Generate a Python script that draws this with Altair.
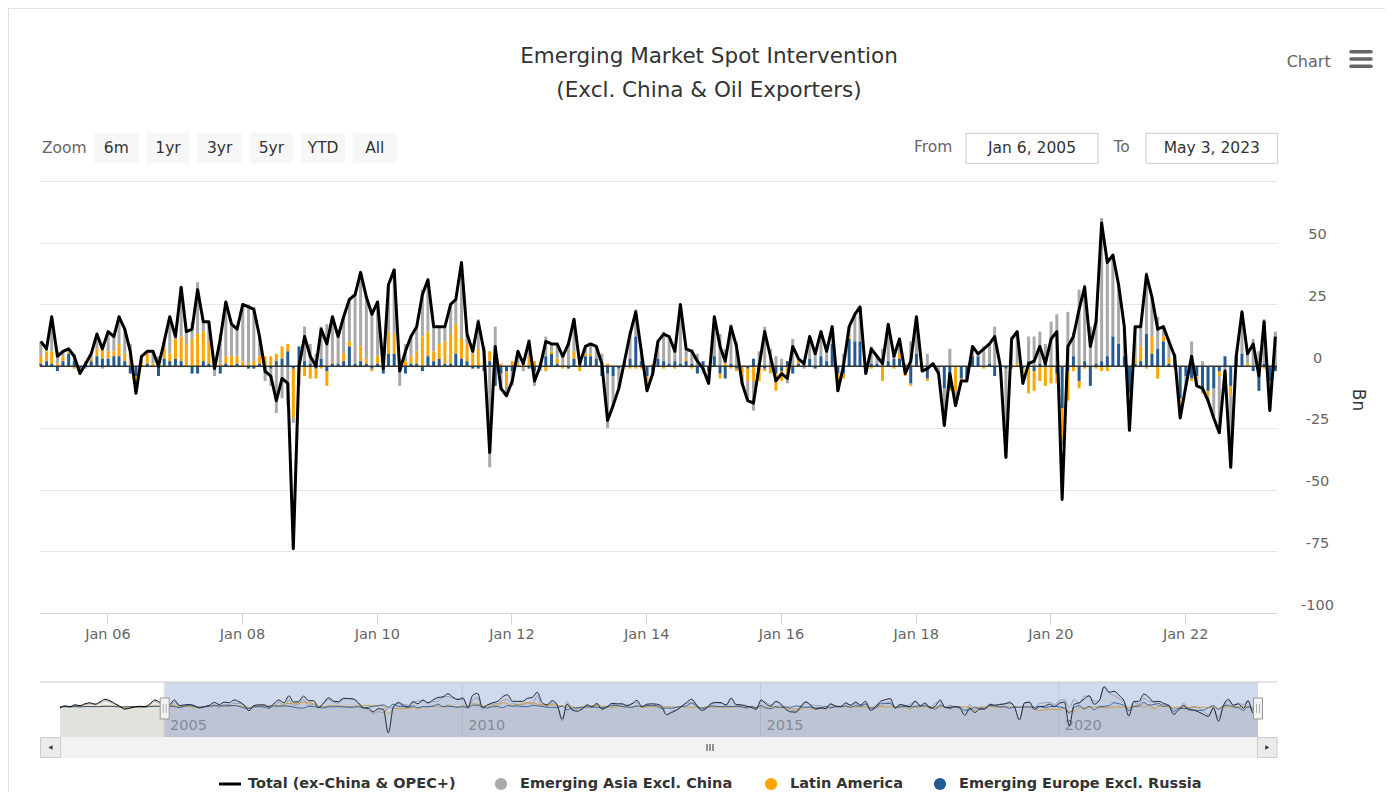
import altair as alt
import pandas as pd

# ---------------- data ----------------
TITLE = ["Emerging Market Spot Intervention", "(Excl. China & Oil Exporters)"]
TOTAL_NAME = "Total (ex-China & OPEC+)"
SERIES = ["Emerging Asia Excl. China", "Latin America", "Emerging Europe Excl. Russia"]
BUTTONS = ["6m", "1yr", "3yr", "5yr", "YTD", "All"]
RANGE_FROM = "Jan 6, 2005"
RANGE_TO = "May 3, 2023"
Y_TICKS = [-100, -75, -50, -25, 0, 25, 50, 75]
X_TICK_YEARS = [2006, 2008, 2010, 2012, 2014, 2016, 2018, 2020, 2022]
NAV_TICK_YEARS = [2005, 2010, 2015, 2020]

# monthly, Jan 2005 - May 2023 (bn)
total = [
    10, 7, 20, 4, 6, 7, 4, -3, 1, 5, 13, 7,
    14, 12, 20, 15, 6, -11, 4, 6, 6, 0, 10, 20,
    12, 32, 14, 15, 31, 18, 18, -1, 11, 26, 17, 15,
    25, 24, 23, 12, -2, -4, -14, -5, -7, -74, 0, 12,
    4, 0, 15, 9, 20, 12, 20, 27, 29, 38, 28, 21,
    26, -1, 33, 39, -2, 6, 12, 16, 29, 35, 16, 16,
    16, 25, 27, 42, 13, 6, 18, 6, -35, 8, -9, -12,
    -6, 6, 1, 10, -6, 0, 10, 9, 9, 4, 9, 19,
    1, 8, 9, 8, 1, -22, -16, -9, 2, 13, 22, 6,
    -10, -3, 10, 13, 12, 6, 25, 7, 6, 2, -1, -7,
    20, 8, 2, 16, 8, -7, -14, -15, 0, 14, 4, -6,
    -3, -5, 8, 3, 1, 12, 5, 14, 6, 16, -10, 0,
    16, 21, 24, -3, 7, 4, 1, 17, 4, 11, -3, 2,
    20, -2, -1, 1, -3, -24, -3, -16, -6, -6, 8, 5,
    7, 9, 12, 0, -37, 11, 14, -7, 1, 2, 8, 1,
    11, 14, -54, 8, 12, 23, 32, 8, 18, 58, 42, 45,
    33, 16, -26, 16, 16, 37, 28, 15, 16, 10, 4, -21,
    -8, 4, -8, -9, -14, -21, -27, -2, -41, 4, 22, 5,
    9, -4, 18, -18, 12,
]
asia = [
    6, 1, 14, 5, 2, 1, 3, -1, -1, 2, 6, -1,
    8, 6, 11, 10, 7, -5, 3, 1, 5, 3, 3, 15,
    1, 20, 5, 7, 21, 4, 8, -3, 12, 22, 13, 11,
    23, 24, 22, 8, -3, -7, -19, -13, -16, -2, -3, 14,
    8, 5, 13, 17, 18, 11, 15, 17, 28, 30, 25, 23,
    22, 1, 19, 26, -8, 7, 8, 10, 19, 21, 10, 7,
    6, 12, 10, 31, 4, 2, 12, 5, -41, 16, -7, -4,
    -6, 5, -2, 7, -6, -2, 8, 3, 6, 5, 10, 13,
    2, 3, 4, 5, 5, -22, -12, -8, 0, 11, 11, 5,
    -3, -2, 7, 12, 11, 5, 24, 4, 6, 5, -3, -4,
    16, 13, 6, 16, 10, -4, -8, -12, 5, 16, 7, 4,
    3, -4, 11, 0, -1, 9, 6, 10, 4, 7, -5, 5,
    4, 11, 14, 0, 7, 3, 7, 15, 3, 6, 1, 10,
    15, -2, 5, 0, -3, -15, 7, -6, 0, -1, 3, 1,
    8, 8, 16, 0, -36, 12, 13, -3, 10, 12, 13, 7,
    18, 21, -3, 22, 10, 31, 31, 16, 18, 58, 40, 33,
    24, 12, -8, 13, 8, 25, 16, 13, 4, 8, 0, -6,
    -4, 10, -3, 2, -2, -12, -23, -6, -29, 0, 17, 4,
    11, 6, 18, -12, 14,
]
latam = [
    3, 4, 5, 1, 2, 1, -1, -1, 1, 1, 3, 5,
    3, 2, 5, 3, 2, -2, 1, 4, 1, 1, 4, 3,
    8, 10, 9, 11, 13, 12, 9, 2, 1, 3, 4, 3,
    2, 1, 2, 3, 4, 4, 3, 5, 3, -20, -5, -4,
    -5, -4, -1, -6, 1, 0, 3, 2, 0, 6, 2, -1,
    3, 1, 9, 8, 3, 2, 3, 5, 12, 10, 4, 6,
    9, 12, 12, 8, 7, 5, 7, 3, 4, 0, 1, -6,
    2, 1, 3, 4, 2, 2, -2, 1, 2, -1, 0, 3,
    -2, 1, 1, 0, 0, 1, 0, 0, 1, -1, -1, -1,
    -3, 1, 0, -1, 0, -1, 0, 1, -1, 0, 0, -1,
    0, -2, 1, -1, -1, -3, -5, -6, -6, -1, -3, -7,
    -4, -3, 0, 2, 1, 0, 0, 0, 0, 0, -2, -2,
    1, 0, 0, 0, -1, 0, -6, 0, -1, 2, -4, -1,
    0, 0, -1, 0, 0, 0, -1, -10, -1, 0, 1, 0,
    -1, 0, 0, 0, 0, -1, 1, -3, -11, -8, -6, -8,
    -7, -4, -12, -12, -2, -3, -1, 0, -1, -2, -2, 0,
    0, 0, -2, 2, 6, -1, 7, -5, 2, 2, -1, -2,
    0, -1, -1, -2, -2, 0, -2, 0, -4, 0, 0, 1,
    0, 0, -1, 0, 0,
]
europe = [
    1, 2, 1, -2, 2, 5, 2, -1, 1, 2, 4, 3,
    3, 4, 4, 2, -3, -4, 0, 1, 0, -4, 3, 2,
    3, 2, 0, -3, -3, 2, 1, -1, -3, 1, 0, 1,
    0, -1, -1, 1, -3, -1, 2, 3, 6, -1, 8, 2,
    1, -1, 3, -2, 1, 1, 2, 8, 1, 2, 1, -1,
    1, -3, 5, 5, 0, -3, 1, 1, -2, 4, 2, 3,
    1, 1, 5, 3, 2, -1, -1, -2, 2, -8, -3, -2,
    -2, 0, 0, -1, -2, 0, 4, 5, 1, 0, -1, 3,
    1, 4, 4, 3, -4, -3, -4, -1, 1, 3, 12, 2,
    -4, -2, 3, 2, 1, 2, 1, 2, 1, -3, 2, -2,
    4, -3, -5, 1, -1, 0, -1, 3, 1, -1, 0, -3,
    -2, 2, -3, 1, 1, 3, -1, 4, 2, 9, -3, -3,
    11, 10, 10, -3, 1, 1, 0, 2, 3, 3, 0, -7,
    5, 0, -5, 1, 0, -9, -9, 0, -5, -5, 4, 4,
    0, 1, -4, 0, -1, 0, 0, -1, 2, -2, 1, 2,
    0, -3, -17, -2, 4, -6, 2, -8, 1, 2, 4, 12,
    9, 4, -11, 1, 2, 13, 5, 7, 10, 1, 5, -13,
    -4, -5, -4, -9, -10, -9, -2, 4, -8, 4, 5, 0,
    -2, -10, 1, -6, -2,
]
# navigator history before the selected range (Apr 2003 - Dec 2004)
pre_total = [-2, 3, 1, 6, 4, 9, 12, 8, 14, 22, 18, 10, 2, -6, -3, 0, 2, 1, 8, 20, 14]
pre_asia = [-3, 1, 0, 4, 2, 6, 9, 6, 11, 17, 14, 7, 1, -6, -4, -1, 1, 0, 5, 15, 10]
pre_latam = [1, 1, 1, 1, 2, 2, 2, 1, 2, 3, 2, 2, 1, 0, 0, 1, 1, 1, 2, 3, 2]
pre_europe = [0, 1, 0, 1, 0, 1, 1, 1, 1, 2, 2, 1, 0, 0, 1, 0, 0, 0, 1, 2, 2]

# ---------------- styling ----------------
FONT = "DejaVu Sans"
C_TOTAL = "#000000"
C_ASIA = "#a9a9a9"
C_LATAM = "#ffa500"
C_EUROPE = "#245a92"
TXT = "#333333"
TXT2 = "#666666"

n = len(total)
main_dates = [d.strftime("%Y-%m-%d") for d in
              pd.date_range("2005-01-01", periods=n, freq="MS") + pd.Timedelta(days=4)]
pre_dates = [d.strftime("%Y-%m-%d") for d in
             pd.date_range("2003-04-01", periods=len(pre_total), freq="MS") + pd.Timedelta(days=4)]

bars_df = pd.DataFrame({
    "date": main_dates * 3,
    "series": [SERIES[0]] * n + [SERIES[1]] * n + [SERIES[2]] * n,
    "value": asia + latam + europe,
    "stack_order": [2] * n + [1] * n + [0] * n,
})
line_df = pd.DataFrame({"date": main_dates, "total": total})

ONE = alt.InlineData(values=[{"k": 0}])

# ---------------- main plot ----------------
x_main = alt.Scale(type="utc", nice=False, padding=0, domain=[
    alt.DateTime(year=2004, month=12, date=31, hours=12, utc=True),
    alt.DateTime(year=2023, month=5, date=14, utc=True)])
y_main = alt.Scale(domain=[-100, 75], nice=False, zero=False)

x_axis = alt.Axis(
    values=[alt.DateTime(year=y, month=1, date=1, utc=True) for y in X_TICK_YEARS],
    format="%b %y", title=None, grid=False,
    labelFont=FONT, labelFontSize=14.5, labelColor=TXT2, labelPadding=3,
    tickColor="#ccd6eb", tickSize=11, domainColor="#ccd6eb", labelFlush=False,
)
y_axis = alt.Axis(
    orient="right", values=Y_TICKS, title=None,
    labelExpr="datum.value == 75 ? '' : '' + datum.value",
    labelAlign="center", labelBaseline="middle", labelPadding=40, labelOffset=-8,
    labelFont=FONT, labelFontSize=14.5, labelColor=TXT2, labelOverlap=False,
    ticks=False, tickSize=0, domain=False, grid=True, gridColor="#e6e6e6",
)

bars = alt.Chart(bars_df).mark_bar(size=3).encode(
    x=alt.X("date:T", scale=x_main, axis=x_axis),
    y=alt.Y("value:Q", stack="zero", scale=y_main, axis=y_axis),
    color=alt.Color("series:N", scale=alt.Scale(domain=SERIES, range=[C_ASIA, C_LATAM, C_EUROPE]), legend=None),
    order=alt.Order("stack_order:Q", sort="ascending"),
)
zero_rule = alt.Chart(ONE).mark_rule(color=TXT, strokeWidth=1.5).encode(y=alt.YDatum(0))
line = alt.Chart(line_df).mark_line(color=C_TOTAL, strokeWidth=3, strokeJoin="round").encode(
    x=alt.X("date:T", scale=x_main, axis=x_axis),
    y=alt.Y("total:Q", scale=y_main, axis=y_axis),
)
main_layer = alt.layer(bars, zero_rule, line)

# ---------------- navigator ----------------
nav_x = alt.Scale(type="utc", nice=False, padding=0, domain=[
    alt.DateTime(year=2003, month=4, date=5, utc=True),
    alt.DateTime(year=2023, month=5, date=5, utc=True)], range=[20, 1218])
nav_y = alt.Scale(domain=[-86, 60], range=[556, 505], nice=False, zero=False)

nav_ticks_df = pd.DataFrame({"d": [f"{y}-01-01" for y in NAV_TICK_YEARS],
                             "lab": [str(y) for y in NAV_TICK_YEARS]})
sel_df = pd.DataFrame({"s": [main_dates[0]], "e": [main_dates[-1]]})
handle_df = pd.DataFrame({"d": [main_dates[0], main_dates[-1]]})

nav_layers = [
    alt.Chart(nav_ticks_df).mark_rule(color="#e6e6e6").encode(
        x=alt.X("d:T", scale=nav_x, axis=None), y=alt.value(501), y2=alt.value(556)),
    alt.Chart(nav_ticks_df).mark_text(align="left", baseline="middle", dx=6, font=FONT,
                                      fontSize=14.5, color="#999999").encode(
        x=alt.X("d:T", scale=nav_x, axis=None), y=alt.value(545), text="lab:N"),
]
for vals, pre, col in [(asia, pre_asia, C_ASIA), (latam, pre_latam, C_LATAM),
                       (europe, pre_europe, C_EUROPE), (total, pre_total, C_TOTAL)]:
    df = pd.DataFrame({"d": pre_dates + main_dates, "v": pre + vals})
    nav_layers.append(alt.Chart(df).mark_area(color=col, fillOpacity=0.05, interpolate="monotone").encode(
        x=alt.X("d:T", scale=nav_x, axis=None),
        y=alt.Y("v:Q", scale=nav_y, axis=None, stack=None), y2=alt.value(556)))
for vals, pre, col in [(asia, pre_asia, C_ASIA), (latam, pre_latam, C_LATAM),
                       (europe, pre_europe, C_EUROPE), (total, pre_total, C_TOTAL)]:
    df = pd.DataFrame({"d": pre_dates + main_dates, "v": pre + vals})
    nav_layers.append(alt.Chart(df).mark_line(color=col, strokeWidth=1, interpolate="monotone").encode(
        x=alt.X("d:T", scale=nav_x, axis=None),
        y=alt.Y("v:Q", scale=nav_y, axis=None)))
nav_layers += [
    # selection mask
    alt.Chart(sel_df).mark_rect(color="#6685c2", opacity=0.3).encode(
        x=alt.X("s:T", scale=nav_x, axis=None), x2="e:T", y=alt.value(501), y2=alt.value(556)),
    # scrollbar thumb
    alt.Chart(sel_df).mark_rect(color="#cccccc").encode(
        x=alt.X("s:T", scale=nav_x, axis=None), x2="e:T", y=alt.value(556), y2=alt.value(577)),
    # handles
    alt.Chart(handle_df).mark_tick(thickness=9, size=21, color="#f2f2f2", stroke="#999999",
                                   strokeWidth=1, opacity=1).encode(
        x=alt.X("d:T", scale=nav_x, axis=None), y=alt.value(527.5)),
    alt.Chart(handle_df).mark_tick(thickness=1, size=9, color="#999999", xOffset=-1.5).encode(
        x=alt.X("d:T", scale=nav_x, axis=None), y=alt.value(527.5)),
    alt.Chart(handle_df).mark_tick(thickness=1, size=9, color="#999999", xOffset=1.5).encode(
        x=alt.X("d:T", scale=nav_x, axis=None), y=alt.value(527.5)),
]

# ---------------- decorations (pixel positions, plot-area coordinates) ----------------
def text(t, x, y, size=15.5, color=TXT, align="left", weight="normal", angle=0):
    return alt.Chart(ONE).mark_text(text=t, align=align, baseline="middle", font=FONT,
                                    fontSize=size, color=color, fontWeight=weight,
                                    angle=angle).encode(x=alt.value(x), y=alt.value(y))


def rect(x1, x2, y1, y2, fill, stroke=None):
    kw = {"fill": fill}
    if stroke:
        kw.update(stroke=stroke, strokeWidth=1)
    return alt.Chart(ONE).mark_rect(**kw).encode(
        x=alt.value(x1), x2=alt.value(x2), y=alt.value(y1), y2=alt.value(y2))


def hrule(x1, x2, y, color, width=1, cap="butt"):
    return alt.Chart(ONE).mark_rule(color=color, strokeWidth=width, strokeCap=cap).encode(
        x=alt.value(x1), x2=alt.value(x2), y=alt.value(y))


def vrule(x, y1, y2, color, width=1):
    return alt.Chart(ONE).mark_rule(color=color, strokeWidth=width).encode(
        x=alt.value(x), y=alt.value(y1), y2=alt.value(y2))


decor = [
    hrule(-32, 1345, -172.5, "#e0e0e0"),
    vrule(-31.5, -173, 611, "#e0e0e0"),
    text(TITLE[0], 669, -124, size=21.5, align="center"),
    text(TITLE[1], 669, -90, size=21.5, align="center"),
    text("Zoom", 2, -33, color=TXT2),
]
for i, b in enumerate(BUTTONS):
    x0 = 54.3 + 51.7 * i
    decor.append(rect(x0, x0 + 44, -48.3, -17.7, "#f7f7f7"))
    decor.append(text(b, x0 + 22, -33, align="center"))
decor += [
    text("From", 874, -34, color=TXT2),
    rect(926, 1058, -47.7, -17.7, "#ffffff", "#cccccc"),
    text(RANGE_FROM, 992, -33, align="center"),
    text("To", 1073.5, -34, color=TXT2),
    rect(1106, 1237.5, -47.7, -17.7, "#ffffff", "#cccccc"),
    text(RANGE_TO, 1171.8, -33, align="center"),
    text("Chart", 1246.7, -119.5, size=16, color=TXT2),
    hrule(1311, 1331, -129.3, TXT2, 3.5, "round"),
    hrule(1311, 1331, -122, TXT2, 3.5, "round"),
    hrule(1311, 1331, -114.7, TXT2, 3.5, "round"),
    text("Bn", 1318, 219, size=17, align="center", angle=90),
    # navigator frame + scrollbar
    hrule(0, 1237, 501, "#cccccc"),
    rect(0, 1237, 556, 577, "#f2f2f2"),
    rect(0.5, 20.5, 556.5, 576.5, "#ebebeb", "#cccccc"),
    rect(1217.5, 1237, 556.5, 576.5, "#ebebeb", "#cccccc"),
    alt.Chart(ONE).mark_point(shape="triangle-left", filled=True, size=22, color=TXT, opacity=1).encode(
        x=alt.value(10.5), y=alt.value(566.5)),
    alt.Chart(ONE).mark_point(shape="triangle-right", filled=True, size=22, color=TXT, opacity=1).encode(
        x=alt.value(1227.3), y=alt.value(566.5)),
]
decor_thumb_grip = [vrule(667 + 3 * k, 563, 570, TXT) for k in range(3)]

# legend
LEG_Y = 603
legend = [
    hrule(179, 201, LEG_Y, C_TOTAL, 3),
    text(TOTAL_NAME, 208, LEG_Y, size=14.5, weight="bold"),
]
for cx, tx, name, col in [(461, 480, SERIES[0], C_ASIA), (731, 750, SERIES[1], C_LATAM),
                          (900, 919, SERIES[2], C_EUROPE)]:
    legend.append(alt.Chart(ONE).mark_circle(size=150, color=col, opacity=1).encode(
        x=alt.value(cx), y=alt.value(LEG_Y)))
    legend.append(text(name, tx, LEG_Y, size=14.5, weight="bold"))

nav_layer = alt.layer(*nav_layers)

chart = alt.layer(main_layer, nav_layer, *decor, *decor_thumb_grip, *legend).resolve_scale(
    x="independent", y="independent"
).properties(
    width=1237, height=432,
    padding={"left": 32, "top": 173, "right": 108, "bottom": 179},
    autosize=alt.AutoSizeParams(type="none"),
    background="#ffffff",
).configure_view(stroke=None)

chart.save("out.html", embed_options={"renderer": "svg", "actions": False})
